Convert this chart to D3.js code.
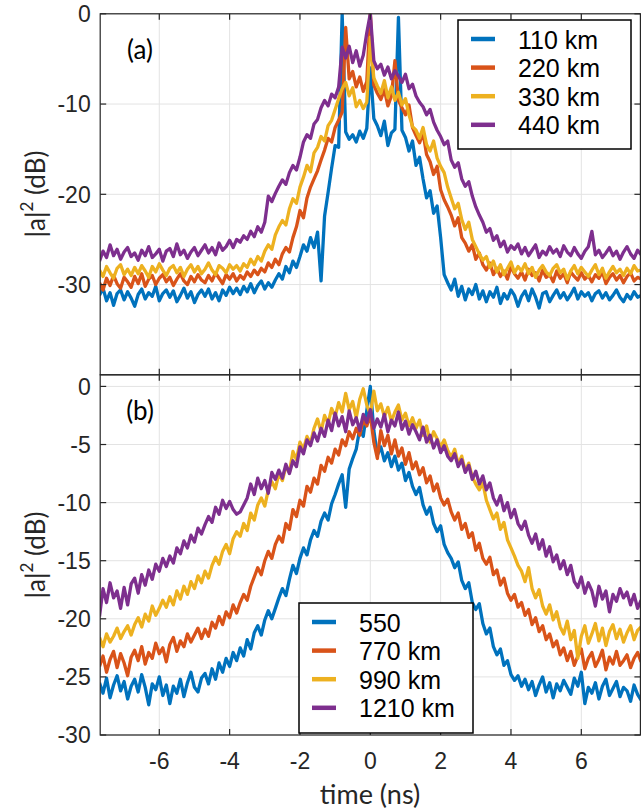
<!DOCTYPE html>
<html><head><meta charset="utf-8">
<script src="https://cdn.jsdelivr.net/npm/d3@7"></script>
<style>body{margin:0;background:#fff}</style>
</head><body>
<svg id="chart" width="641" height="811"></svg>
<script>
// time grid (ns): -7.7 .. 7.7 step 0.1
const timeStart = -7.7, timeStep = 0.1, nPts = 155;
const times = d3.range(nPts).map(i => +(timeStart + i * timeStep).toFixed(1));

const labelsA = ["110 km", "220 km", "330 km", "440 km"];
const labelsB = ["550", "770 km", "990 km", "1210 km"];
const colors = ["#0072BD", "#D95319", "#EDB120", "#7E2F8E"];
const xTicks = [-6, -4, -2, 0, 2, 4, 6];
const yTicksA = [-30, -20, -10, 0];
const yTicksB = [-30, -25, -20, -15, -10, -5, 0];

const a110 = [
-31.2,-30.4,-31.8,-30.9,-32.3,-31.0,-30.6,-31.7,-30.8,-31.5,
-32.4,-31.1,-30.5,-31.6,-30.9,-31.3,-30.2,-31.8,-31.0,-30.6,
-31.4,-30.7,-31.9,-31.2,-30.4,-31.5,-30.8,-32.0,-31.1,-30.6,
-31.3,-30.5,-31.6,-30.9,-31.8,-30.6,-31.2,-30.3,-31.0,-30.4,
-31.1,-30.2,-30.8,-29.9,-30.9,-30.1,-29.6,-30.5,-29.8,-30.3,
-29.5,-28.8,-29.4,-28.0,-28.7,-27.4,-28.1,-26.9,-25.6,-26.3,
-24.8,-25.9,-24.2,-29.6,-22.4,-19.8,-17.1,-14.6,-14.8,0.0,
-13.1,-13.9,-13.4,-14.2,-13.0,-13.8,-12.7,-6.0,-11.6,-12.4,
-13.5,-11.9,-14.6,-13.2,-12.8,-0.4,-12.9,-13.7,-15.2,-14.1,
-16.8,-15.9,-18.3,-20.4,-19.6,-22.1,-21.3,-24.8,-28.9,-29.8,
-30.6,-29.4,-31.3,-30.2,-31.7,-30.5,-31.1,-30.0,-31.6,-30.7,
-31.9,-30.8,-31.4,-30.3,-32.1,-31.0,-31.6,-30.6,-31.2,-32.4,
-31.3,-30.7,-31.8,-30.5,-31.4,-32.6,-31.0,-30.8,-31.9,-31.2,
-30.6,-31.5,-30.9,-31.7,-31.1,-30.4,-31.6,-30.8,-31.3,-30.9,
-31.8,-31.0,-30.7,-31.5,-30.9,-31.7,-31.2,-30.6,-31.4,-31.9,
-31.1,-31.6,-30.8,-31.4,-31.2];

const a220 = [
-29.8,-30.6,-29.3,-30.1,-29.0,-29.9,-30.4,-29.2,-29.7,-30.3,
-29.1,-29.9,-28.8,-30.2,-29.4,-29.0,-30.0,-29.3,-28.9,-29.7,
-29.2,-30.1,-29.4,-28.8,-29.6,-30.0,-29.1,-29.7,-28.9,-29.5,
-29.8,-29.0,-29.6,-28.7,-29.3,-29.9,-28.9,-29.4,-28.8,-29.6,
-29.0,-29.4,-28.6,-29.1,-28.4,-28.9,-28.2,-28.6,-27.6,-28.1,
-27.2,-27.8,-26.6,-25.9,-26.4,-24.8,-23.6,-21.8,-22.6,-20.4,
-19.2,-18.3,-17.4,-16.2,-15.1,-13.8,-14.2,-12.6,-11.8,-10.9,
-1.5,-7.2,-6.4,-8.1,-7.0,-8.6,-7.5,0.2,-7.9,-8.8,
-9.5,-8.4,-10.2,-9.1,-5.2,-9.6,-10.4,-11.2,-10.1,-12.6,
-13.5,-14.3,-13.2,-15.6,-16.4,-17.8,-16.9,-19.5,-20.6,-21.4,
-22.3,-23.5,-22.6,-24.8,-25.4,-26.3,-25.6,-27.2,-26.5,-27.8,
-28.4,-27.6,-28.9,-28.2,-29.1,-28.5,-29.4,-28.0,-28.8,-29.3,
-28.6,-29.5,-28.3,-29.0,-28.7,-29.6,-28.4,-29.2,-28.9,-29.7,
-28.5,-29.3,-28.8,-29.8,-28.6,-29.1,-29.5,-28.7,-29.4,-29.0,
-29.7,-28.9,-29.3,-28.6,-29.9,-29.2,-28.8,-29.5,-29.0,-29.8,
-29.1,-28.7,-29.6,-29.2,-29.4];

const a330 = [
-28.4,-29.1,-28.0,-28.7,-29.3,-28.2,-27.8,-28.9,-28.3,-29.0,
-28.1,-28.8,-27.9,-28.5,-29.2,-28.0,-28.6,-27.7,-28.4,-29.0,
-28.2,-27.9,-28.7,-28.1,-29.1,-28.3,-27.8,-28.6,-28.0,-28.8,
-28.3,-27.6,-28.4,-28.9,-27.9,-28.2,-28.7,-27.8,-28.3,-27.9,
-28.5,-27.7,-28.1,-27.2,-27.8,-26.9,-27.4,-26.3,-25.6,-26.1,
-24.5,-23.6,-22.9,-23.4,-21.6,-20.5,-21.0,-19.2,-18.1,-16.8,
-17.5,-15.4,-14.8,-13.6,-14.1,-12.4,-11.8,-10.6,-9.4,-8.3,
-7.6,-9.1,-8.2,-10.3,-9.6,-10.5,-9.8,-2.6,-7.1,-8.0,
-8.8,-7.4,-9.3,-8.1,-9.6,-8.7,-10.1,-9.4,-11.2,-12.5,
-12.9,-13.8,-12.6,-14.5,-15.2,-14.1,-16.0,-16.9,-17.6,-19.2,
-20.4,-21.6,-21.0,-22.8,-23.9,-23.1,-25.0,-25.8,-26.6,-27.3,
-26.9,-28.1,-27.4,-28.6,-27.8,-28.9,-28.2,-27.5,-28.7,-28.0,
-28.5,-27.7,-28.8,-28.1,-29.2,-28.4,-27.9,-28.6,-29.0,-28.2,
-27.8,-28.7,-28.3,-29.4,-28.5,-27.9,-28.8,-28.1,-28.6,-29.1,
-28.4,-27.8,-28.9,-28.2,-29.3,-28.6,-28.0,-28.7,-28.3,-29.0,
-28.2,-28.8,-27.9,-28.5,-28.4];

const a440 = [
-27.4,-26.3,-27.0,-25.6,-26.8,-26.1,-27.2,-26.4,-25.9,-26.9,
-26.5,-27.3,-26.2,-26.8,-25.8,-27.0,-26.6,-26.1,-27.4,-26.3,
-26.0,-26.9,-25.5,-26.7,-26.2,-27.1,-26.4,-25.9,-26.8,-26.2,
-25.6,-26.5,-25.9,-26.7,-25.4,-26.2,-25.8,-25.1,-25.9,-25.0,
-25.3,-24.6,-25.0,-24.1,-24.7,-23.6,-24.2,-23.1,-20.2,-20.8,
-19.9,-19.1,-18.4,-18.9,-17.6,-16.8,-17.3,-15.9,-14.2,-13.4,
-13.8,-12.2,-11.7,-10.4,-9.6,-10.2,-8.9,-9.3,-8.1,-3.7,
-4.9,-3.6,-5.4,-4.1,-5.8,-4.6,-2.1,0.0,-5.2,-6.1,
-5.6,-6.8,-5.9,-7.2,-6.3,-6.9,-7.6,-6.7,-8.3,-7.8,
-9.1,-9.8,-10.3,-11.2,-10.6,-12.0,-12.9,-13.6,-14.5,-14.1,
-16.2,-17.0,-16.5,-18.3,-19.1,-18.6,-20.2,-21.4,-22.3,-23.1,
-24.2,-23.8,-25.1,-24.6,-25.8,-25.2,-26.4,-25.7,-26.1,-25.5,
-26.6,-25.9,-26.8,-26.2,-25.6,-27.0,-26.3,-26.7,-25.8,-26.5,
-26.1,-26.9,-25.7,-26.4,-26.8,-25.9,-26.6,-27.1,-26.3,-25.8,
-24.1,-26.7,-26.2,-27.0,-26.5,-25.9,-26.8,-26.3,-27.2,-26.4,
-25.8,-26.6,-27.1,-26.2,-26.7];

const b550 = [
-25.5,-26.4,-25.1,-26.8,-25.7,-24.9,-26.2,-25.4,-26.9,-25.8,
-25.2,-26.3,-24.8,-25.9,-27.4,-25.6,-26.1,-25.0,-26.6,-25.7,
-27.3,-25.8,-26.4,-25.2,-26.7,-25.5,-24.6,-25.9,-26.3,-25.1,
-24.7,-25.6,-24.3,-25.2,-23.8,-24.6,-23.4,-24.1,-22.9,-23.6,
-22.5,-23.2,-21.8,-22.6,-21.2,-20.6,-21.4,-20.1,-19.3,-20.0,
-19.1,-18.2,-17.4,-18.0,-16.6,-15.4,-16.1,-14.8,-13.9,-14.5,
-13.2,-12.4,-12.9,-11.6,-10.9,-11.5,-10.1,-9.3,-8.4,-7.6,
-10.4,-7.1,-6.2,-5.4,-3.6,-4.3,-2.1,0.0,-3.8,-5.9,
-5.2,-6.4,-5.7,-6.9,-6.0,-7.2,-6.6,-8.1,-7.4,-8.6,
-9.3,-8.7,-10.2,-11.0,-10.4,-11.8,-12.5,-12.0,-13.6,-14.3,
-14.8,-15.6,-15.1,-16.7,-17.4,-16.9,-18.6,-19.2,-18.7,-20.4,
-21.3,-20.8,-22.4,-23.1,-22.6,-24.0,-23.6,-24.8,-25.3,-24.9,
-25.8,-25.2,-26.1,-25.4,-26.6,-25.7,-25.0,-26.3,-25.5,-26.8,
-25.6,-26.2,-25.3,-25.9,-26.5,-25.1,-25.8,-24.6,-27.3,-25.9,
-26.4,-25.5,-26.9,-25.8,-25.2,-26.6,-26.0,-25.4,-26.7,-25.9,
-26.2,-27.1,-25.7,-26.5,-27.0];

const b770 = [
-24.1,-23.2,-24.6,-23.5,-22.8,-24.2,-23.0,-23.8,-24.9,-23.3,
-22.7,-23.6,-22.4,-23.9,-22.9,-23.4,-22.1,-23.0,-22.5,-23.7,
-22.2,-21.6,-22.8,-21.9,-22.4,-21.3,-22.0,-21.4,-20.8,-21.7,
-20.9,-21.5,-20.3,-20.8,-19.8,-20.5,-19.4,-19.9,-18.8,-19.5,
-18.6,-17.9,-18.4,-17.2,-16.4,-15.6,-16.2,-15.0,-14.2,-14.8,
-13.6,-12.9,-13.4,-11.8,-12.3,-10.6,-11.2,-9.8,-10.3,-8.6,
-9.1,-7.9,-8.4,-6.8,-7.3,-6.1,-6.6,-5.4,-5.9,-4.6,
-5.1,-3.9,-4.5,-3.6,-4.2,-2.9,-3.4,-2.4,-4.8,-6.2,
-3.8,-5.1,-4.2,-5.8,-4.6,-6.0,-5.3,-6.7,-5.7,-7.1,
-6.5,-7.6,-7.0,-8.3,-7.7,-9.0,-8.4,-9.6,-10.2,-9.7,
-10.8,-11.5,-10.9,-12.3,-11.8,-13.0,-12.6,-14.1,-13.5,-14.8,
-15.3,-14.7,-16.2,-15.8,-17.1,-16.5,-17.8,-18.4,-17.9,-19.0,
-18.6,-19.7,-19.2,-20.5,-19.9,-21.1,-20.6,-21.8,-21.3,-22.4,
-21.9,-23.1,-22.5,-23.6,-22.8,-24.0,-23.2,-22.6,-24.3,-23.4,
-22.9,-24.1,-23.5,-22.7,-24.4,-23.3,-23.9,-22.8,-24.0,-23.6,
-23.1,-24.2,-23.4,-22.9,-23.7];

const b990 = [
-21.6,-22.4,-21.3,-22.0,-21.5,-20.8,-21.7,-21.1,-20.6,-21.4,
-20.5,-19.9,-20.7,-19.6,-20.2,-18.9,-19.7,-19.1,-18.4,-19.0,
-18.1,-18.8,-17.6,-18.3,-17.2,-17.9,-16.8,-17.4,-16.3,-16.9,
-15.9,-16.5,-15.4,-14.7,-15.3,-14.2,-13.6,-14.4,-13.1,-12.5,
-12.9,-11.8,-12.4,-10.9,-11.5,-10.2,-9.6,-10.3,-8.9,-8.2,
-8.8,-7.5,-8.1,-6.9,-7.4,-5.6,-6.3,-4.8,-5.4,-4.3,
-4.9,-3.6,-2.8,-3.9,-2.5,-3.2,-1.9,-2.6,-1.4,-2.2,
-0.6,-2.0,-1.3,-2.7,-1.1,-0.2,-1.6,-2.4,-0.4,-2.1,
-1.5,-2.6,-1.8,-3.0,-2.2,-1.6,-2.9,-2.3,-3.4,-2.7,
-3.6,-2.9,-4.2,-3.4,-4.8,-3.9,-4.5,-5.2,-4.6,-5.5,
-6.1,-5.4,-6.7,-6.0,-7.3,-6.6,-7.8,-8.4,-8.9,-8.3,
-9.8,-10.6,-11.4,-10.9,-12.3,-11.7,-13.2,-13.9,-14.6,-15.4,
-15.9,-16.8,-15.6,-17.4,-18.2,-17.5,-18.9,-19.6,-18.8,-20.1,
-19.4,-20.7,-21.3,-20.2,-21.8,-21.0,-23.4,-21.5,-20.6,-22.1,
-21.3,-20.4,-21.9,-20.8,-22.3,-21.1,-20.5,-21.7,-20.9,-22.0,
-21.2,-20.6,-21.8,-21.0,-20.7];

const b1210 = [
-19.8,-17.4,-18.6,-16.9,-18.2,-17.6,-19.1,-17.3,-18.8,-17.0,
-16.5,-17.8,-16.2,-17.1,-15.8,-16.6,-15.3,-15.9,-14.8,-15.5,
-14.6,-15.2,-13.9,-14.4,-13.3,-13.9,-12.8,-13.4,-12.2,-12.7,
-11.9,-11.2,-11.7,-10.4,-11.0,-9.8,-10.5,-9.9,-10.6,-11.0,
-10.8,-10.2,-9.6,-8.4,-9.3,-7.9,-8.8,-8.1,-9.2,-7.4,
-8.0,-7.2,-7.9,-6.7,-7.5,-6.4,-6.9,-5.2,-5.8,-4.6,
-5.1,-4.0,-4.7,-3.6,-4.3,-2.9,-3.8,-2.3,-3.4,-2.6,
-3.9,-2.1,-3.3,-2.7,-3.8,-2.4,-3.1,-2.0,-3.6,-2.8,
-3.5,-2.4,-3.9,-2.9,-3.4,-2.2,-3.7,-3.0,-4.1,-3.3,
-3.9,-4.6,-3.5,-4.8,-4.2,-5.3,-4.6,-5.7,-5.1,-6.0,
-6.4,-5.8,-6.9,-6.3,-7.4,-6.8,-8.0,-7.3,-8.4,-7.7,
-8.9,-8.3,-9.6,-10.2,-9.4,-10.7,-10.0,-11.3,-10.6,-11.8,
-12.3,-11.6,-12.8,-13.5,-12.7,-14.0,-13.2,-14.6,-13.8,-15.1,
-14.5,-15.7,-15.0,-16.2,-15.4,-16.8,-17.3,-16.4,-17.8,-16.9,
-17.6,-18.9,-17.2,-18.3,-17.6,-19.4,-17.9,-18.5,-17.4,-18.2,
-17.7,-18.8,-17.9,-19.1,-18.4];

const seriesA = [a110, a220, a330, a440];
const seriesB = [b550, b770, b990, b1210];

const svg = d3.select("#chart");
const axisColor = "#262626", gridColor = "#e3e3e3";
const X0 = 100.2, X1 = 640.4;
const x = d3.scaleLinear().domain([-7.68, 7.68]).range([X0, X1]);

function panel(id, series, labels, yDomain, yRange, yTicks, tag, tagY, leg, labelCY) {
  const y = d3.scaleLinear().domain(yDomain).range(yRange);
  const top = yRange[1], bot = yRange[0];
  const g = svg.append("g");
  g.append("clipPath").attr("id", "clip" + id).append("rect")
    .attr("x", X0).attr("y", top).attr("width", X1 - X0).attr("height", bot - top);
  // grid
  g.append("g").selectAll("line").data(xTicks).join("line")
    .attr("x1", d => x(d)).attr("x2", d => x(d)).attr("y1", top).attr("y2", bot)
    .attr("stroke", gridColor).attr("stroke-width", 1);
  g.append("g").selectAll("line").data(yTicks).join("line")
    .attr("x1", X0).attr("x2", X1).attr("y1", d => y(d)).attr("y2", d => y(d))
    .attr("stroke", gridColor).attr("stroke-width", 1);
  // lines
  const line = d3.line().x((d, i) => x(times[i])).y(d => y(d));
  const lg = g.append("g").attr("clip-path", `url(#clip${id})`);
  series.forEach((s, k) => {
    lg.append("path").datum(s).attr("d", line).attr("fill", "none")
      .attr("stroke", colors[k]).attr("stroke-width", 3.3).attr("stroke-linejoin", "round");
  });
  // axes (inside ticks on all sides)
  const tl = 6;
  const ax = g.append("g").attr("stroke", axisColor).attr("stroke-width", 1.2);
  ax.append("rect").attr("x", X0).attr("y", top).attr("width", X1 - X0).attr("height", bot - top).attr("fill", "none");
  xTicks.forEach(d => {
    ax.append("line").attr("x1", x(d)).attr("x2", x(d)).attr("y1", bot).attr("y2", bot - tl);
    ax.append("line").attr("x1", x(d)).attr("x2", x(d)).attr("y1", top).attr("y2", top + tl);
  });
  yTicks.forEach(d => {
    ax.append("line").attr("x1", X0).attr("x2", X0 + tl).attr("y1", y(d)).attr("y2", y(d));
    ax.append("line").attr("x1", X1).attr("x2", X1 - tl).attr("y1", y(d)).attr("y2", y(d));
  });
  g.append("g").selectAll("text").data(yTicks).join("text")
    .attr("x", X0 - 9.5).attr("y", d => y(d)).attr("dy", "0.36em")
    .attr("text-anchor", "end").attr("font-family", "Liberation Sans, Arial, sans-serif")
    .attr("font-size", 23).attr("fill", axisColor).text(d => d);
  // panel tag
  g.append("text").attr("x", 140).attr("y", tagY).attr("text-anchor", "middle")
    .attr("font-family", "Lato, sans-serif").attr("font-size", 26).attr("fill", "#000").text(tag);
  // y label
  const yl = g.append("text").attr("transform", `translate(45,${labelCY}) rotate(-90)`)
    .attr("text-anchor", "middle").attr("font-family", "Lato, sans-serif")
    .attr("font-size", 26).attr("fill", axisColor);
  yl.append("tspan").text("|a|");
  yl.append("tspan").attr("dy", -12).attr("font-size", 17).text("2");
  yl.append("tspan").attr("dy", 12).text(" (dB)");
  // legend
  const L = g.append("g");
  L.append("rect").attr("x", leg.x).attr("y", leg.y).attr("width", leg.w).attr("height", leg.h)
    .attr("fill", "#fff").attr("stroke", "#000").attr("stroke-width", 1.5);
  labels.forEach((lab, k) => {
    const cy = leg.y + 19 + k * 28.6;
    L.append("line").attr("x1", leg.x + 13).attr("x2", leg.x + 37).attr("y1", cy).attr("y2", cy)
      .attr("stroke", colors[k]).attr("stroke-width", 4.5);
    L.append("text").attr("x", leg.x + 60).attr("y", cy + 9.5)
      .attr("font-family", "Liberation Sans, Arial, sans-serif").attr("font-size", 25)
      .attr("fill", "#000").text(lab);
  });
  return y;
}

panel("a", seriesA, labelsA, [-40, 0], [374.8, 13.8], yTicksA, "(a)", 59,
  {x: 458, y: 20, w: 173, h: 129}, 194);
panel("b", seriesB, labelsB, [-30, 1], [735, 374.8], yTicksB, "(b)", 420,
  {x: 299, y: 603, w: 174, h: 130}, 555);

// x tick labels & x label
svg.append("g").selectAll("text").data(xTicks).join("text")
  .attr("x", d => x(d)).attr("y", 769).attr("text-anchor", "middle")
  .attr("font-family", "Liberation Sans, Arial, sans-serif").attr("font-size", 23)
  .attr("fill", axisColor).text(d => d);
svg.append("text").attr("x", 370).attr("y", 804).attr("text-anchor", "middle")
  .attr("font-family", "Lato, sans-serif").attr("font-size", 27).attr("fill", axisColor).text("time (ns)");
</script>
</body></html>
